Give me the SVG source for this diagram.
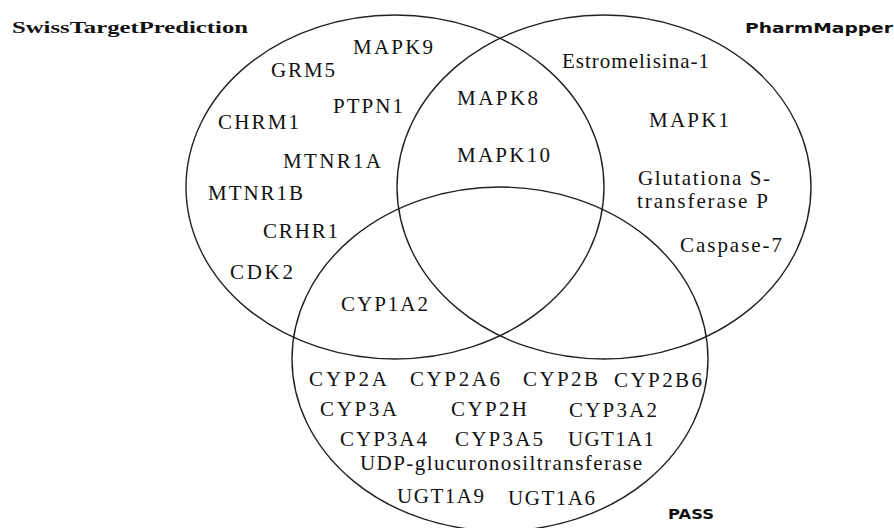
<svg xmlns="http://www.w3.org/2000/svg" width="894" height="528" viewBox="0 0 894 528">
<style>
.c{fill:none;stroke:#222;stroke-width:1.4}
.t{font-family:"Liberation Serif","Times New Roman",serif;font-size:21px;fill:#111}
.h{font-family:"Liberation Serif","Times New Roman",serif;font-size:17px;font-weight:bold;fill:#111}
.s{font-family:"DejaVu Sans",Verdana,sans-serif;font-size:14px;font-weight:bold;fill:#111}
</style>
<rect width="894" height="528" fill="#fff"/>
<g id="set-swiss">
<ellipse class="c" cx="395" cy="187" rx="209" ry="172"/>
<text class="h" x="12" y="33" textLength="236" lengthAdjust="spacingAndGlyphs">SwissTargetPrediction</text>
</g>
<g id="set-pharm">
<ellipse class="c" cx="604" cy="187" rx="207" ry="172"/>
<text class="s" x="745" y="33" textLength="148" lengthAdjust="spacingAndGlyphs">PharmMapper</text>
</g>
<g id="set-pass">
<ellipse class="c" cx="500" cy="359" rx="208" ry="172"/>
<text class="s" x="668" y="519" textLength="46" lengthAdjust="spacingAndGlyphs">PASS</text>
</g>
<g id="swiss-only">
<text class="t" x="353" y="54" textLength="80" lengthAdjust="spacing">MAPK9</text>
<text class="t" x="271" y="77" textLength="64" lengthAdjust="spacing">GRM5</text>
<text class="t" x="333" y="113" textLength="70" lengthAdjust="spacing">PTPN1</text>
<text class="t" x="218" y="129" textLength="81" lengthAdjust="spacing">CHRM1</text>
<text class="t" x="283" y="168" textLength="98" lengthAdjust="spacing">MTNR1A</text>
<text class="t" x="208" y="200" textLength="95" lengthAdjust="spacing">MTNR1B</text>
<text class="t" x="263" y="238" textLength="75" lengthAdjust="spacing">CRHR1</text>
<text class="t" x="230" y="279" textLength="63" lengthAdjust="spacing">CDK2</text>
</g>
<g id="swiss-pharm">
<text class="t" x="457" y="105" textLength="81" lengthAdjust="spacing">MAPK8</text>
<text class="t" x="457" y="162" textLength="93" lengthAdjust="spacing">MAPK10</text>
</g>
<g id="swiss-pass">
<text class="t" x="341" y="311" textLength="87" lengthAdjust="spacing">CYP1A2</text>
</g>
<g id="pharm-only">
<text class="t" x="562" y="68" textLength="147" lengthAdjust="spacing">Estromelisina-1</text>
<text class="t" x="649" y="127" textLength="80" lengthAdjust="spacing">MAPK1</text>
<text class="t" x="638" y="185" textLength="132" lengthAdjust="spacing">Glutationa  S-</text>
<text class="t" x="637" y="208" textLength="131" lengthAdjust="spacing">transferase P</text>
<text class="t" x="680" y="252" textLength="102" lengthAdjust="spacing">Caspase-7</text>
</g>
<g id="pass-only">
<text class="t" x="309" y="386" textLength="78" lengthAdjust="spacing">CYP2A</text>
<text class="t" x="410" y="386" textLength="90" lengthAdjust="spacing">CYP2A6</text>
<text class="t" x="523" y="386" textLength="75" lengthAdjust="spacing">CYP2B</text>
<text class="t" x="614" y="387" textLength="88" lengthAdjust="spacing">CYP2B6</text>
<text class="t" x="320" y="416" textLength="77" lengthAdjust="spacing">CYP3A</text>
<text class="t" x="451" y="416" textLength="76" lengthAdjust="spacing">CYP2H</text>
<text class="t" x="569" y="417" textLength="88" lengthAdjust="spacing">CYP3A2</text>
<text class="t" x="340" y="446" textLength="87" lengthAdjust="spacing">CYP3A4</text>
<text class="t" x="455" y="446" textLength="88" lengthAdjust="spacing">CYP3A5</text>
<text class="t" x="568" y="446" textLength="86" lengthAdjust="spacing">UGT1A1</text>
<text class="t" x="360" y="470" textLength="282" lengthAdjust="spacing">UDP-glucuronosiltransferase</text>
<text class="t" x="397" y="503" textLength="87" lengthAdjust="spacing">UGT1A9</text>
<text class="t" x="508" y="505" textLength="87" lengthAdjust="spacing">UGT1A6</text>
</g>
<g id="connectors"></g>
</svg>
